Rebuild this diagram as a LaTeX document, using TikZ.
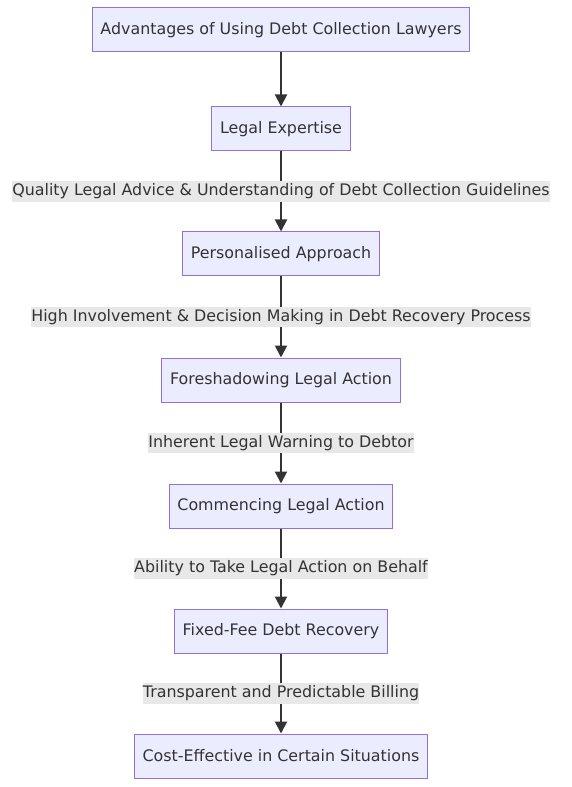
\documentclass[tikz,border=0pt]{standalone}
\usepackage{fontspec}
\setmainfont{DejaVu Sans}
\usetikzlibrary{arrows.meta}
\definecolor{boxfill}{HTML}{ECECFF}
\definecolor{boxline}{HTML}{9370DB}
\definecolor{ink}{HTML}{333333}
\definecolor{tagfill}{HTML}{E8E8E8}
\begin{document}
\begin{tikzpicture}[
  x=0.75pt, y=-0.75pt,
  block/.style={rectangle, draw=boxline, fill=boxfill, line width=0.75pt, minimum height=33pt, inner xsep=6.2pt, text=ink},
  tag/.style={fill=tagfill, inner xsep=0pt, inner ysep=2pt, text=ink},
  link/.style={-{Triangle[length=9pt,width=9pt]}, draw=ink, line width=1.5pt},
  font=\fontsize{11.9}{13}\selectfont
]
\useasboundingbox (0,0) rectangle (571,787);
\node[block] (adv) at (281,30) {Advantages of Using Debt Collection Lawyers};
\node[block, below of=adv, node distance=74.25pt] (expert) {Legal Expertise};
\node[block, below of=expert, node distance=93.75pt] (personal) {Personalised Approach};
\node[block, below of=personal, node distance=94.5pt] (foreshadow) {Foreshadowing Legal Action};
\node[block, below of=foreshadow, node distance=94.5pt] (commence) {Commencing Legal Action};
\node[block, below of=commence, node distance=93.75pt] (fixedfee) {Fixed-Fee Debt Recovery};
\node[block, below of=fixedfee, node distance=93.75pt] (costeff) {Cost-Effective in Certain Situations};

\draw[link] (adv) -- (expert);
\draw[link] (expert) -- node[tag] {Quality Legal Advice \& Understanding of Debt Collection Guidelines} (personal);
\draw[link] (personal) -- node[tag] {High Involvement \& Decision Making in Debt Recovery Process} (foreshadow);
\draw[link] (foreshadow) -- node[tag] {Inherent Legal Warning to Debtor} (commence);
\draw[link] (commence) -- node[tag] {Ability to Take Legal Action on Behalf} (fixedfee);
\draw[link] (fixedfee) -- node[tag] {Transparent and Predictable Billing} (costeff);
\end{tikzpicture}
\end{document}
